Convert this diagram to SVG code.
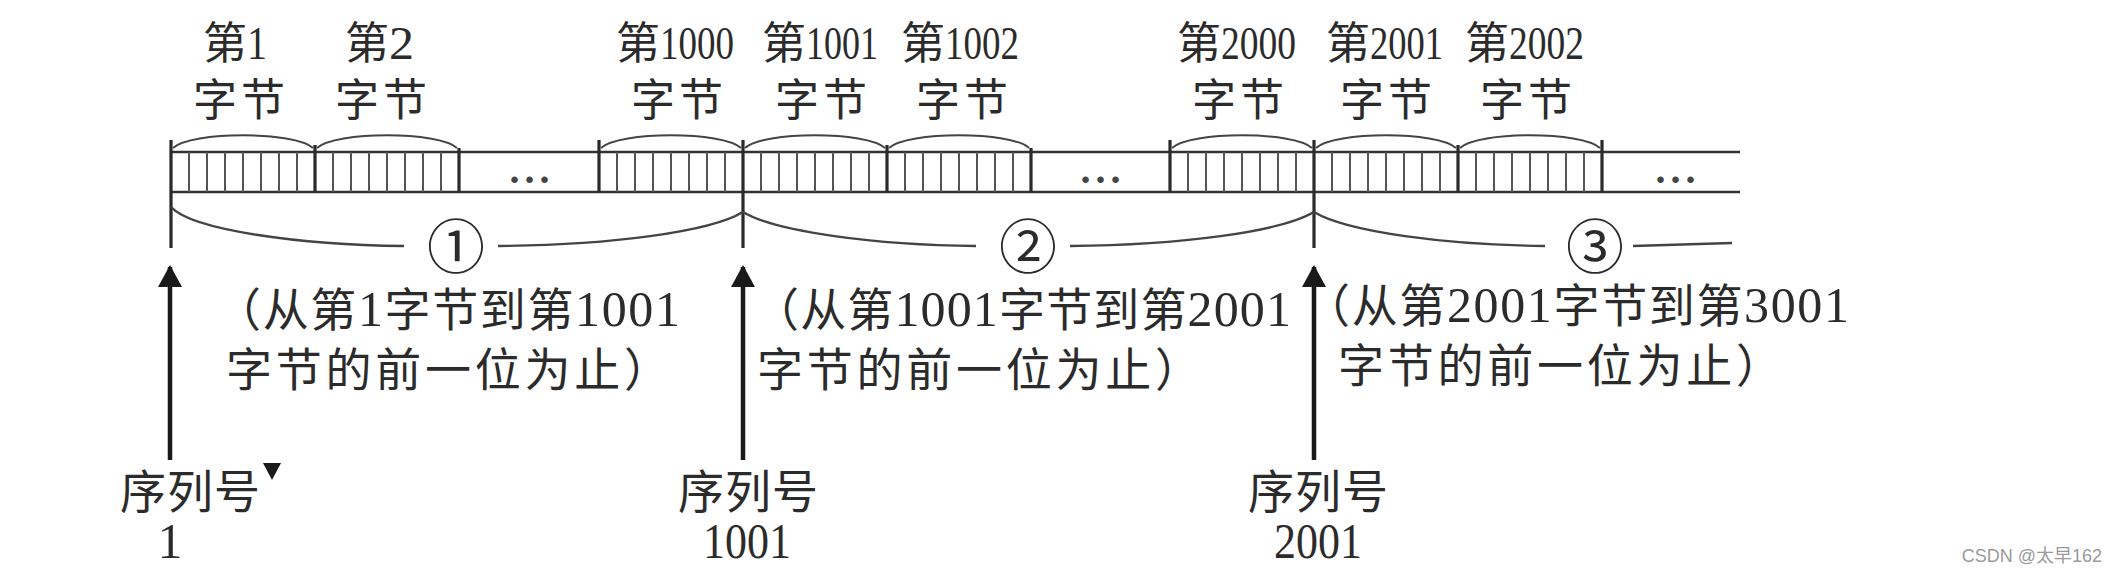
<svg xmlns="http://www.w3.org/2000/svg" width="2120" height="584" viewBox="0 0 2120 584">
<style>
text{font-family:'Liberation Serif','Noto Sans CJK SC',serif;fill:#2b2b2b}
.lbl{font-size:44px}
.dg{font-size:46px}
.rng{font-size:46px}
.rdg{font-size:50px}
.seq{font-size:46px}
.num{font-size:50px}
.circ{font-family:'Noto Sans CJK SC',sans-serif;font-size:58px;text-anchor:middle}
.tape{stroke:#333;stroke-width:2.5;fill:none}
.edge{stroke:#2a2a2a;stroke-width:3.2;fill:none}
.bits{stroke:#555;stroke-width:2;fill:none}
.arc{stroke:#444;stroke-width:2;fill:none}
.brace{stroke:#444;stroke-width:2.4;fill:none}
.arrow{stroke:#1a1a1a;stroke-width:4.5;fill:none;marker-end:url(#head)}
.dots{font-size:40px;font-weight:bold;letter-spacing:5px;text-anchor:middle;fill:#444}
.wm{font-family:'Liberation Sans','Noto Sans CJK SC',sans-serif;font-size:18px;fill:#9a9a9a;text-anchor:end}
</style>
<defs>
<marker id="head" viewBox="0 0 22 24" markerWidth="22" markerHeight="24" markerUnits="userSpaceOnUse" refX="20" refY="12" orient="auto">
<path d="M0,0 L22,12 L0,24 Z" fill="#1a1a1a"/>
</marker>
</defs>
<rect width="2120" height="584" fill="#fff"/>

<g id="tape">
<path class="tape" d="M171,152 H1740 M171,192 H1740"/>
<path class="edge" d="M171,140 V248 M315,145 V192 M459,148 V192 M599,140 V192 M743,140 V248 M887,145 V192 M1031,148 V192 M1170,140 V192 M1314,140 V248 M1458,145 V192 M1602,140 V192"/>
</g>

<g id="byte-1">
<path class="arc" d="M173,148 C191,131 295,131 313,148"/>
<path class="bits" d="M189,152V192M207,152V192M225,152V192M243,152V192M261,152V192M279,152V192M297,152V192"/>
<text class="lbl" x="203" y="59">第<tspan class="dg" textLength="20" lengthAdjust="spacingAndGlyphs">1</tspan></text>
<text class="lbl" x="193" y="116" textLength="92" lengthAdjust="spacing">字节</text>
</g>
<g id="byte-2">
<path class="arc" d="M317,148 C335,131 439,131 457,148"/>
<path class="bits" d="M333,152V192M351,152V192M369,152V192M387,152V192M405,152V192M423,152V192M441,152V192"/>
<text class="lbl" x="345" y="59">第<tspan class="dg" textLength="25" lengthAdjust="spacingAndGlyphs">2</tspan></text>
<text class="lbl" x="335" y="116" textLength="92" lengthAdjust="spacing">字节</text>
</g>
<g id="gap-1"><text class="dots" x="532" y="183">...</text></g>
<g id="byte-1000">
<path class="arc" d="M601,148 C619,131 723,131 741,148"/>
<path class="bits" d="M617,152V192M635,152V192M653,152V192M671,152V192M689,152V192M707,152V192M725,152V192"/>
<text class="lbl" x="616" y="59">第<tspan class="dg" textLength="74" lengthAdjust="spacingAndGlyphs">1000</tspan></text>
<text class="lbl" x="631" y="116" textLength="92" lengthAdjust="spacing">字节</text>
</g>
<g id="byte-1001">
<path class="arc" d="M745,148 C763,131 867,131 885,148"/>
<path class="bits" d="M761,152V192M779,152V192M797,152V192M815,152V192M833,152V192M851,152V192M869,152V192"/>
<text class="lbl" x="762" y="59">第<tspan class="dg" textLength="72" lengthAdjust="spacingAndGlyphs">1001</tspan></text>
<text class="lbl" x="775" y="116" textLength="92" lengthAdjust="spacing">字节</text>
</g>
<g id="byte-1002">
<path class="arc" d="M889,148 C907,131 1011,131 1029,148"/>
<path class="bits" d="M905,152V192M923,152V192M941,152V192M959,152V192M977,152V192M995,152V192M1013,152V192"/>
<text class="lbl" x="901" y="59">第<tspan class="dg" textLength="74" lengthAdjust="spacingAndGlyphs">1002</tspan></text>
<text class="lbl" x="916" y="116" textLength="92" lengthAdjust="spacing">字节</text>
</g>
<g id="gap-2"><text class="dots" x="1103" y="183">...</text></g>
<g id="byte-2000">
<path class="arc" d="M1172,148 C1190,131 1294,131 1312,148"/>
<path class="bits" d="M1188,152V192M1206,152V192M1224,152V192M1242,152V192M1260,152V192M1278,152V192M1296,152V192"/>
<text class="lbl" x="1177" y="59">第<tspan class="dg" textLength="75" lengthAdjust="spacingAndGlyphs">2000</tspan></text>
<text class="lbl" x="1192" y="116" textLength="92" lengthAdjust="spacing">字节</text>
</g>
<g id="byte-2001">
<path class="arc" d="M1316,148 C1334,131 1438,131 1456,148"/>
<path class="bits" d="M1332,152V192M1350,152V192M1368,152V192M1386,152V192M1404,152V192M1422,152V192M1440,152V192"/>
<text class="lbl" x="1326" y="59">第<tspan class="dg" textLength="73" lengthAdjust="spacingAndGlyphs">2001</tspan></text>
<text class="lbl" x="1340" y="116" textLength="92" lengthAdjust="spacing">字节</text>
</g>
<g id="byte-2002">
<path class="arc" d="M1460,148 C1478,131 1582,131 1600,148"/>
<path class="bits" d="M1476,152V192M1494,152V192M1512,152V192M1530,152V192M1548,152V192M1566,152V192M1584,152V192"/>
<text class="lbl" x="1465" y="59">第<tspan class="dg" textLength="75" lengthAdjust="spacingAndGlyphs">2002</tspan></text>
<text class="lbl" x="1480" y="116" textLength="92" lengthAdjust="spacing">字节</text>
</g>
<g id="gap-3"><text class="dots" x="1678" y="183">...</text></g>

<g id="segment-1">
<path class="brace" d="M171,207 C192,230 300,245 404,246 M498,246 C610,245 710,232 743,212"/>
<text class="circ" x="456" y="268">①</text>
<text class="rng" x="215" y="326" textLength="465" lengthAdjust="spacing">（从第<tspan class="rdg">1</tspan>字节到第<tspan class="rdg">1001</tspan></text>
<text class="rng" x="226" y="386" textLength="444" lengthAdjust="spacing">字节的前一位为止）</text>
</g>
<g id="segment-2">
<path class="brace" d="M743,212 C776,232 876,245 976,246 M1070,246 C1180,245 1280,232 1314,212"/>
<text class="circ" x="1028" y="268">②</text>
<text class="rng" x="753" y="326" textLength="538" lengthAdjust="spacing">（从第<tspan class="rdg">1001</tspan>字节到第<tspan class="rdg">2001</tspan></text>
<text class="rng" x="757" y="386" textLength="444" lengthAdjust="spacing">字节的前一位为止）</text>
</g>
<g id="segment-3">
<path class="brace" d="M1314,212 C1347,232 1447,245 1545,246 M1633,246 L1732,243"/>
<text class="circ" x="1595" y="268">③</text>
<text class="rng" x="1304" y="322" textLength="545" lengthAdjust="spacing">（从第<tspan class="rdg">2001</tspan>字节到第<tspan class="rdg">3001</tspan></text>
<text class="rng" x="1338" y="382" textLength="444" lengthAdjust="spacing">字节的前一位为止）</text>
</g>

<g id="connectors">
<path class="arrow" d="M170,460 V267"/>
<path class="arrow" d="M743,460 V267"/>
<path class="arrow" d="M1314,460 V267"/>
</g>

<g id="seq-1">
<text class="seq" x="120" y="508" textLength="140" lengthAdjust="spacing">序列号</text>
<polygon points="263,463 281,463 272,480" fill="#1a1a1a"/>
<text class="num" x="170" y="558" text-anchor="middle">1</text>
</g>
<g id="seq-1001">
<text class="seq" x="678" y="508" textLength="140" lengthAdjust="spacing">序列号</text>
<text class="num" x="703" y="558" textLength="88" lengthAdjust="spacingAndGlyphs">1001</text>
</g>
<g id="seq-2001">
<text class="seq" x="1248" y="508" textLength="140" lengthAdjust="spacing">序列号</text>
<text class="num" x="1274" y="558" textLength="88" lengthAdjust="spacingAndGlyphs">2001</text>
</g>

<text class="wm" x="2102" y="562">CSDN @太早162</text>
</svg>
